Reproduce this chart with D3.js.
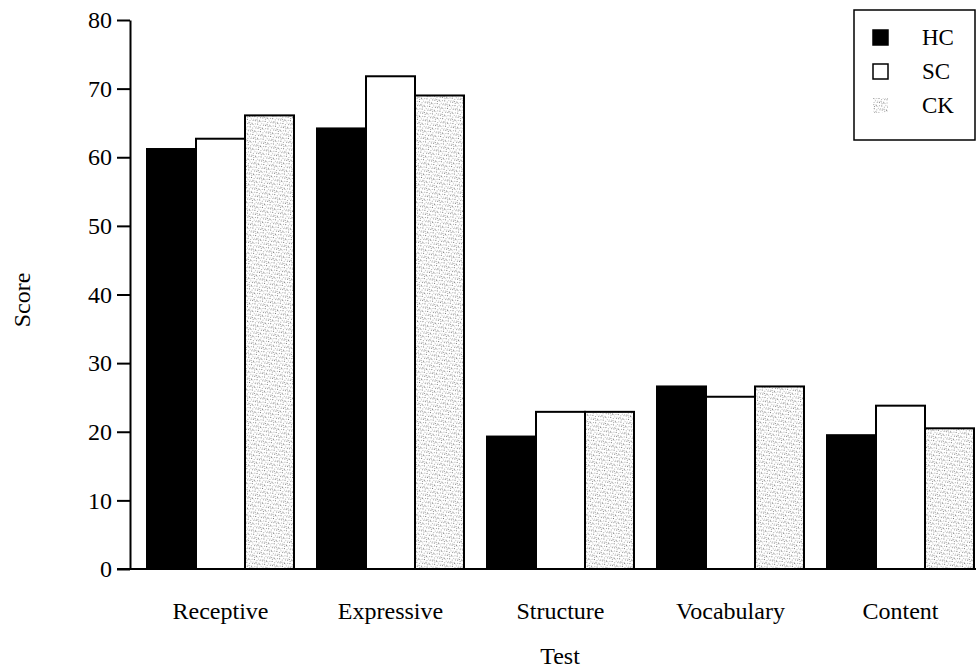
<!DOCTYPE html>
<html>
<head>
<meta charset="utf-8">
<script src="https://cdn.jsdelivr.net/npm/d3@7"></script>
<style>
  body { margin: 0; background: #fff; }
  svg text { font-family: "Liberation Serif", "Times New Roman", serif; fill: #000; }
</style>
</head>
<body>
<script>
const tests = ["Receptive", "Expressive", "Structure", "Vocabulary", "Content"];
const groups = ["HC", "SC", "CK"];
const hcScores = [61.2, 64.2, 19.3, 26.6, 19.5];
const scScores = [62.7, 71.8, 22.9, 25.1, 23.8];
const ckScores = [66.1, 69.0, 22.9, 26.6, 20.5];
const yTicks = [0, 10, 20, 30, 40, 50, 60, 70, 80];

const scores = { HC: hcScores, SC: scScores, CK: ckScores };

const width = 976, height = 671;
const serif = "'Liberation Serif', 'Times New Roman', serif";

const svg = d3.select("body")
    .append("svg")
    .attr("width", width)
    .attr("height", height);

// stipple fill for CK bars (fixed dot layout)
const dots = [
    [0, 0, "#888"], [3, 1, "#aaa"], [6, 0, "#999"], [1, 3, "#bbb"],
    [5, 2, "#777"], [2, 5, "#999"], [7, 4, "#aaa"], [4, 6, "#888"],
    [0, 7, "#bbb"], [6, 6, "#999"], [3, 4, "#ccc"], [1, 1, "#ccc"],
    [5, 5, "#bbb"]
];
const pattern = svg.append("defs")
    .append("pattern")
    .attr("id", "stipple")
    .attr("patternUnits", "userSpaceOnUse")
    .attr("width", 8)
    .attr("height", 8)
    .attr("patternTransform", "rotate(-20)");
pattern.append("rect").attr("width", 8).attr("height", 8).attr("fill", "#fff");
pattern.selectAll("rect.dot")
    .data(dots)
    .enter().append("rect")
    .attr("class", "dot")
    .attr("x", d => d[0])
    .attr("y", d => d[1])
    .attr("width", 1)
    .attr("height", 1)
    .attr("fill", d => d[2]);

const fills = { HC: "#000", SC: "#fff", CK: "url(#stipple)" };

const x = d3.scaleBand()
    .domain(tests)
    .range([147, 974])
    .paddingInner(23 / 170)
    .paddingOuter(0);

const xInner = d3.scaleBand()
    .domain(groups)
    .range([0, x.bandwidth()]);

const y = d3.scaleLinear()
    .domain([0, 80])
    .range([569, 20]);

// bars
const testGroups = svg.selectAll("g.test")
    .data(tests)
    .enter().append("g")
    .attr("class", "test")
    .attr("transform", d => `translate(${x(d)}, 0)`);

testGroups.selectAll("rect")
    .data((t, i) => groups.map(g => ({ g: g, v: scores[g][i] })))
    .enter().append("rect")
    .attr("x", d => xInner(d.g))
    .attr("y", d => y(d.v))
    .attr("width", xInner.bandwidth())
    .attr("height", d => y(0) - y(d.v))
    .attr("fill", d => fills[d.g])
    .attr("stroke", "#000")
    .attr("stroke-width", 2);

// y axis
const yAxis = svg.append("g")
    .attr("transform", "translate(130, 0)")
    .call(d3.axisLeft(y).tickValues(yTicks).tickSize(13).tickSizeOuter(0).tickPadding(5));
yAxis.attr("font-family", serif).attr("font-size", 24);
yAxis.select(".domain").attr("stroke-width", 2);
yAxis.selectAll(".tick line").attr("stroke-width", 2);

// x axis line
svg.append("line")
    .attr("x1", 117)
    .attr("x2", width)
    .attr("y1", y(0))
    .attr("y2", y(0))
    .attr("stroke", "#000")
    .attr("stroke-width", 2);

// x category labels
svg.selectAll("text.xlab")
    .data(tests)
    .enter().append("text")
    .attr("class", "xlab")
    .attr("x", d => x(d) + x.bandwidth() / 2)
    .attr("y", 619)
    .attr("text-anchor", "middle")
    .attr("font-family", serif)
    .attr("font-size", 24)
    .text(d => d);

// axis titles
svg.append("text")
    .attr("x", 560)
    .attr("y", 664)
    .attr("text-anchor", "middle")
    .attr("font-family", serif)
    .attr("font-size", 24)
    .text("Test");

svg.append("text")
    .attr("transform", "translate(30, 300) rotate(-90)")
    .attr("text-anchor", "middle")
    .attr("font-family", serif)
    .attr("font-size", 24)
    .text("Score");

// legend
const legend = svg.append("g").attr("class", "legend");
legend.append("rect")
    .attr("x", 854)
    .attr("y", 10)
    .attr("width", 121)
    .attr("height", 130)
    .attr("fill", "#fff")
    .attr("stroke", "#000")
    .attr("stroke-width", 1.5);

const legendItems = legend.selectAll("g.item")
    .data(groups)
    .enter().append("g")
    .attr("class", "item")
    .attr("transform", (d, i) => `translate(873, ${30 + i * 34})`);

legendItems.append("rect")
    .attr("width", 15)
    .attr("height", 15)
    .attr("fill", d => fills[d])
    .attr("stroke", d => d === "CK" ? "none" : "#000")
    .attr("stroke-width", 1.5);

legendItems.append("text")
    .attr("x", 49)
    .attr("y", 15)
    .attr("font-family", serif)
    .attr("font-size", 23)
    .text(d => d);
</script>
</body>
</html>
